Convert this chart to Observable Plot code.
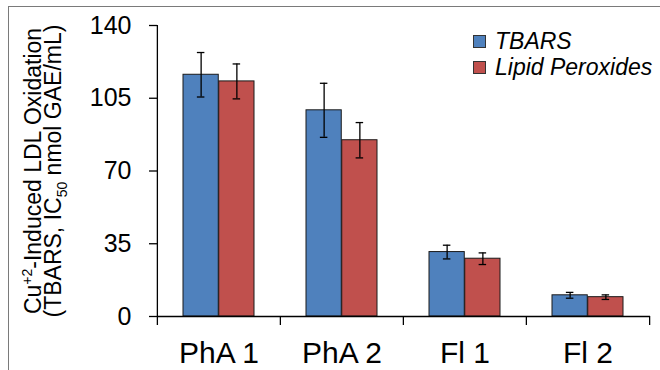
<!DOCTYPE html>
<html>
<head>
<meta charset="utf-8">
<script src="https://cdn.jsdelivr.net/npm/d3@7"></script>
<script src="https://cdn.jsdelivr.net/npm/@observablehq/plot@0.6"></script>
<style>
  html, body { margin: 0; padding: 0; background: #fff; }
  #wrap { position: relative; width: 660px; height: 370px; overflow: hidden; font-family: Arial, "Liberation Sans", sans-serif; }
  #border { position: absolute; left: 8px; top: 6px; width: 720px; height: 420px; border: 1.5px solid #7a7a7a; box-sizing: border-box; }
  #chart { position: absolute; left: 0; top: 0; }
  #ytitle { position: absolute; left: 43px; top: 171px; width: 320px; transform: translate(-50%, -50%) rotate(-90deg); text-align: center; font-size: 23px; line-height: 20px; color: #000; white-space: nowrap; }
  #ytitle sup, #ytitle sub { font-size: 14px; line-height: 0; }
  #legend { position: absolute; left: 473px; top: 28px; font-size: 23px; font-style: italic; color: #000; white-space: nowrap; }
  .li { display: flex; align-items: center; height: 26px; white-space: nowrap; }
  .sw { width: 11px; height: 11px; border: 1px solid #333; margin-right: 9px; flex: none; }
</style>
</head>
<body>
<div id="wrap">
  <div id="border"></div>
  <div id="chart"></div>
  <div id="ytitle">Cu<sup>+2</sup>-Induced LDL Oxidation<br>(TBARS, IC<sub>50</sub> nmol GAE/mL)</div>
  <div id="legend"></div>
</div>
<script>
const categories = ["PhA 1", "PhA 2", "Fl 1", "Fl 2"];
const series = ["TBARS", "Lipid Peroxides"];
const colors = ["#4F81BD", "#C0504D"];
const tbarsValues = [116.3, 99.2, 31.0, 10.2];
const tbarsErrors = [10.7, 13.0, 3.3, 1.4];
const lipidValues = [113.1, 84.8, 27.8, 9.3];
const lipidErrors = [8.4, 8.5, 2.8, 1.1];
const yTicks = [0, 35, 70, 105, 140];

const W = 660, H = 370, mL = 157, mR = 10, mT = 25, mB = 54;
const padInner = 0.42, padOuter = 0.21;
const step = (W - mL - mR) / (categories.length - padInner + 2 * padOuter);
const bw = step * (1 - padInner);

const rowsA = categories.map((c, i) => ({category: c, series: series[0], value: tbarsValues[i], err: tbarsErrors[i]}));
const rowsB = categories.map((c, i) => ({category: c, series: series[1], value: lipidValues[i], err: lipidErrors[i]}));

const cap = 4;
const lineColor = "#000";

const plot = Plot.plot({
  width: W, height: H,
  marginLeft: mL, marginRight: mR, marginTop: mT, marginBottom: mB,
  style: {fontFamily: "Arial, 'Liberation Sans', sans-serif", background: "transparent", overflow: "visible"},
  x: {type: "band", domain: categories, paddingInner: padInner, paddingOuter: padOuter, axis: null, label: null},
  y: {domain: [0, 140], axis: null, label: null},
  marks: [
    Plot.barY(rowsA, {x: "category", y: "value", fill: colors[0], stroke: "#1a1a1a", strokeWidth: 1, insetRight: bw / 2}),
    Plot.barY(rowsB, {x: "category", y: "value", fill: colors[1], stroke: "#1a1a1a", strokeWidth: 1, insetLeft: bw / 2}),
    // error bars
    Plot.ruleX(rowsA, {x: "category", y1: d => d.value - d.err, y2: d => d.value + d.err, dx: -bw / 4, stroke: lineColor, strokeWidth: 1.3}),
    Plot.ruleX(rowsB, {x: "category", y1: d => d.value - d.err, y2: d => d.value + d.err, dx: bw / 4, stroke: lineColor, strokeWidth: 1.3}),
    Plot.tickY(rowsA, {x: "category", y: d => d.value + d.err, insetLeft: bw / 4 - cap, insetRight: 3 * bw / 4 - cap, stroke: lineColor, strokeWidth: 1.3}),
    Plot.tickY(rowsA, {x: "category", y: d => d.value - d.err, insetLeft: bw / 4 - cap, insetRight: 3 * bw / 4 - cap, stroke: lineColor, strokeWidth: 1.3}),
    Plot.tickY(rowsB, {x: "category", y: d => d.value + d.err, insetLeft: 3 * bw / 4 - cap, insetRight: bw / 4 - cap, stroke: lineColor, strokeWidth: 1.3}),
    Plot.tickY(rowsB, {x: "category", y: d => d.value - d.err, insetLeft: 3 * bw / 4 - cap, insetRight: bw / 4 - cap, stroke: lineColor, strokeWidth: 1.3}),
    // baseline
    Plot.ruleY([0], {stroke: lineColor, strokeWidth: 1.3}),
    // y axis line (continues as first category boundary tick)
    Plot.ruleX([categories[0]], {x: d => d, y1: 140, y2: 0, insetBottom: -9, dx: -step / 2, stroke: lineColor, strokeWidth: 1.3}),
    // category boundary ticks
    Plot.ruleX(categories.slice(1), {x: d => d, y1: 0, y2: 0, insetBottom: -9, dx: -step / 2, stroke: lineColor, strokeWidth: 1.3}),
    Plot.ruleX([categories[categories.length - 1]], {x: d => d, y1: 0, y2: 0, insetBottom: -9, dx: step / 2, stroke: lineColor, strokeWidth: 1.3}),
    Plot.axisY({ticks: yTicks, tickSize: 8, tickPadding: 18, fontSize: 25, stroke: lineColor, strokeWidth: 1.3, fill: "#000", label: null}),
    Plot.axisX({tickSize: 0, tickPadding: 25, fontSize: 30, fill: "#000", label: null})
  ]
});
document.getElementById("chart").appendChild(plot);

const legend = document.getElementById("legend");
series.forEach((s, i) => {
  const row = document.createElement("div");
  row.className = "li";
  const sw = document.createElement("div");
  sw.className = "sw";
  sw.style.background = colors[i];
  const t = document.createElement("span");
  t.textContent = s;
  row.appendChild(sw);
  row.appendChild(t);
  legend.appendChild(row);
});
</script>
</body>
</html>
